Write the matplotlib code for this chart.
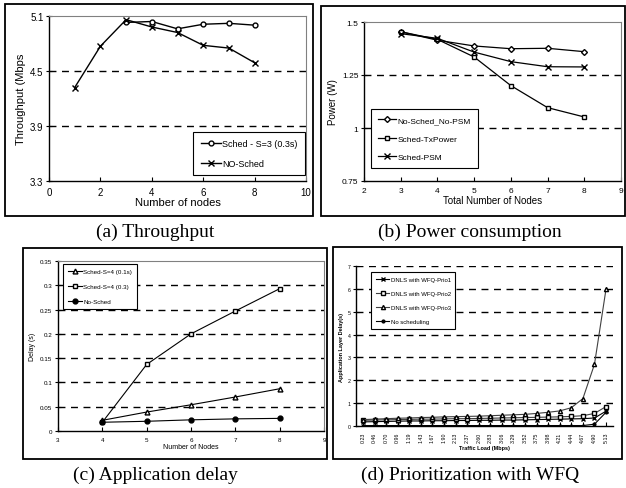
import matplotlib.pyplot as plt
from matplotlib.patches import Rectangle

plt.rcParams['font.family'] = ['Liberation Sans', 'DejaVu Sans']

# (a) throughput
a_nodes_sched = [3, 4, 5, 6, 7, 8]
a_sched = [5.03, 5.04, 4.96, 5.01, 5.02, 5.00]
a_nodes_nosched = [1, 2, 3, 4, 5, 6, 7, 8]
a_nosched = [4.32, 4.77, 5.06, 4.98, 4.92, 4.78, 4.75, 4.59]

# (b) power
b_nodes = [3, 4, 5, 6, 7, 8]
b_nosched_nopsm = [1.454, 1.414, 1.387, 1.374, 1.376, 1.360]
b_sched_txpower = [1.454, 1.418, 1.335, 1.200, 1.096, 1.052]
b_sched_psm = [1.445, 1.423, 1.358, 1.313, 1.289, 1.288]

# (c) delay
c_nodes = [4, 5, 6, 7, 8]
c_sched_01 = [0.022, 0.039, 0.054, 0.070, 0.087]
c_sched_03 = [0.018, 0.137, 0.200, 0.247, 0.293]
c_nosched = [0.018, 0.020, 0.023, 0.025, 0.026]

# (d) WFQ prioritization
d_load = ["0.23", "0.46", "0.70", "0.96", "1.19", "1.43", "1.67", "1.90", "2.13", "2.37", "2.60",
          "2.83", "3.06", "3.29", "3.52", "3.75", "3.98", "4.21", "4.44", "4.67", "4.90", "5.13"]
d_prio1 = [0.18, 0.19, 0.20, 0.21, 0.22, 0.22, 0.23, 0.23, 0.24, 0.24, 0.25,
           0.25, 0.26, 0.26, 0.27, 0.28, 0.29, 0.30, 0.31, 0.32, 0.35, 0.65]
d_prio2 = [0.25, 0.26, 0.27, 0.28, 0.29, 0.30, 0.30, 0.31, 0.32, 0.32, 0.33,
           0.34, 0.35, 0.36, 0.37, 0.38, 0.39, 0.40, 0.42, 0.45, 0.55, 0.85]
d_prio3 = [0.28, 0.30, 0.32, 0.34, 0.35, 0.37, 0.38, 0.40, 0.41, 0.42, 0.43,
           0.45, 0.47, 0.49, 0.51, 0.55, 0.60, 0.66, 0.80, 1.20, 2.70, 6.00]
d_nosched = [0.02, 0.02, 0.02, 0.02, 0.02, 0.02, 0.02, 0.02, 0.02, 0.02, 0.02,
             0.02, 0.02, 0.02, 0.02, 0.02, 0.02, 0.02, 0.02, 0.02, 0.08, 0.60]

W, H = 626, 489
fig = plt.figure(figsize=(W / 100, H / 100), dpi=100)


def px_axes(x0, y0, x1, y1):
    return fig.add_axes([x0 / W, 1 - y1 / H, (x1 - x0) / W, (y1 - y0) / H])


def frame(x0, y0, x1, y1):
    fig.patches.append(Rectangle((x0 / W, 1 - y1 / H), (x1 - x0) / W, (y1 - y0) / H,
                                 transform=fig.transFigure, fill=False,
                                 edgecolor='black', linewidth=1.3))


def style(ax, grid_vals, fs):
    for s in ['top', 'right']:
        ax.spines[s].set_color('#808080')
        ax.spines[s].set_linewidth(0.8)
    for s in ['left', 'bottom']:
        ax.spines[s].set_linewidth(1.0)
    for g in grid_vals:
        ax.axhline(g, color='black', linestyle=(0, (5, 4)), linewidth=1.0, zorder=0)
    ax.tick_params(axis='y', direction='inout', length=4, labelsize=fs, pad=2)
    ax.tick_params(axis='x', direction='in', length=3, labelsize=fs, pad=4)


def leg(ax, loc, anchor, fs, spacing):
    lg = ax.legend(loc=loc, bbox_to_anchor=anchor, fontsize=fs, frameon=True, fancybox=False,
                   edgecolor='black', framealpha=1, handlelength=2.2, labelspacing=spacing,
                   borderpad=0.8, handletextpad=0.2, borderaxespad=0)
    lg.get_frame().set_linewidth(0.8)


caption_font = ['Liberation Serif', 'DejaVu Serif']

# ---- (a)
frame(5, 5, 313, 217)
ax = px_axes(49, 17, 306, 182)
ax.plot(a_nodes_sched, a_sched, color='black', lw=1, marker='o', ms=3.5,
        mfc='white', mec='black', label='Sched - S=3 (0.3s)')
ax.plot(a_nodes_nosched, a_nosched, color='black', lw=1, marker='x', ms=5,
        label='NO-Sched')
ax.set_xlim(0, 10)
ax.set_ylim(3.3, 5.1)
ax.set_xticks([0, 2, 4, 6, 8, 10])
ax.set_yticks([3.3, 3.9, 4.5, 5.1])
style(ax, [3.9, 4.5], 7)
ax.set_xlabel('Number of nodes', fontsize=8, labelpad=0)
ax.set_ylabel('Throughput (Mbps', fontsize=8, labelpad=3)
leg(ax, 'lower right', (0.996, 0.036), 6.5, 1.2)
fig.text(155 / W, 1 - 232 / H, '(a) Throughput', ha='center', va='center',
         fontsize=14, family=caption_font)

# ---- (b)
frame(321, 7, 625, 217)
ax = px_axes(364, 23, 621, 182)
ax.plot(b_nodes, b_nosched_nopsm, color='black', lw=0.9, marker='D', ms=3,
        mfc='white', mec='black', label='No-Sched_No-PSM')
ax.plot(b_nodes, b_sched_txpower, color='black', lw=0.9, marker='s', ms=3,
        mfc='white', mec='black', label='Sched-TxPower')
ax.plot(b_nodes, b_sched_psm, color='black', lw=0.9, marker='x', ms=5,
        label='Sched-PSM')
ax.set_xlim(2, 9)
ax.set_ylim(0.75, 1.5)
ax.set_xticks(range(2, 10))
ax.set_yticks([0.75, 1, 1.25, 1.5])
ax.set_yticklabels(['0.75', '1', '1.25', '1.5'])
style(ax, [1.0, 1.25], 6)
ax.set_xlabel('Total Number of Nodes', fontsize=7, labelpad=1)
ax.set_ylabel('Power (W)', fontsize=7, labelpad=3)
leg(ax, 'lower left', (0.027, 0.082), 6, 1.3)
fig.text(470 / W, 1 - 232 / H, '(b) Power consumption', ha='center', va='center',
         fontsize=14, family=caption_font)

# ---- (c)
frame(23, 249, 327, 460)
ax = px_axes(58, 262, 324, 432)
ax.plot(c_nodes, c_sched_01, color='black', lw=0.8, marker='^', ms=3.5,
        mfc='white', mec='black', label='Sched-S=4 (0.1s)')
ax.plot(c_nodes, c_sched_03, color='black', lw=0.8, marker='s', ms=3.5,
        mfc='white', mec='black', label='Sched-S=4 (0.3)')
ax.plot(c_nodes, c_nosched, color='black', lw=0.8, marker='o', ms=3.5,
        label='No-Sched')
ax.set_xlim(3, 9)
ax.set_ylim(0, 0.35)
ax.set_xticks(range(3, 10))
ax.set_yticks([0, 0.05, 0.1, 0.15, 0.2, 0.25, 0.3, 0.35])
ax.set_yticklabels(['0', '0.05', '0.1', '0.15', '0.2', '0.25', '0.3', '0.35'])
style(ax, [0.05, 0.1, 0.15, 0.2, 0.25, 0.3], 4.5)
ax.set_xlabel('Number of Nodes', fontsize=5, labelpad=1)
ax.set_ylabel('Delay (s)', fontsize=5, labelpad=3)
leg(ax, 'upper left', (0.019, 0.982), 4.5, 1.5)
fig.text(155 / W, 1 - 475 / H, '(c) Application delay', ha='center', va='center',
         fontsize=14, family=caption_font)

# ---- (d)
frame(333, 248, 622, 460)
ax = px_axes(356, 267, 613, 427)
xs = range(len(d_load))
ax.plot(xs, d_prio1, color='black', lw=0.8, marker='x', ms=3,
        label='DNLS with WFQ-Prio1')
ax.plot(xs, d_prio2, color='#404040', lw=0.8, marker='s', ms=2.5,
        mfc='white', mec='black', label='DNLS with WFQ-Prio2')
ax.plot(xs, d_prio3, color='#404040', lw=0.8, marker='^', ms=3,
        mfc='white', mec='black', label='DNLS with WFQ-Prio3')
ax.plot(xs, d_nosched, color='black', lw=0.8, marker='o', ms=2,
        label='No scheduling')
ax.set_xlim(-0.6, len(d_load) - 0.4)
ax.set_ylim(0, 7)
ax.set_xticks(list(xs))
ax.set_xticklabels(d_load, rotation=90)
ax.set_yticks(range(0, 8))
style(ax, [1, 2, 3, 4, 5, 6, 7], 3.8)
ax.spines['top'].set_visible(False)
ax.spines['right'].set_visible(False)
ax.set_xlabel('Traffic Load (Mbps)', fontsize=4, fontweight='bold', labelpad=2)
ax.set_ylabel('Application Layer Delay(s)', fontsize=4, fontweight='bold')
ax.yaxis.set_label_coords(-0.045, 0.5)
leg(ax, 'upper left', (0.06, 0.9625), 4.3, 1.5)
fig.text(470 / W, 1 - 475 / H, '(d) Prioritization with WFQ', ha='center', va='center',
         fontsize=14, family=caption_font)

fig.savefig('out.png', dpi=100)
